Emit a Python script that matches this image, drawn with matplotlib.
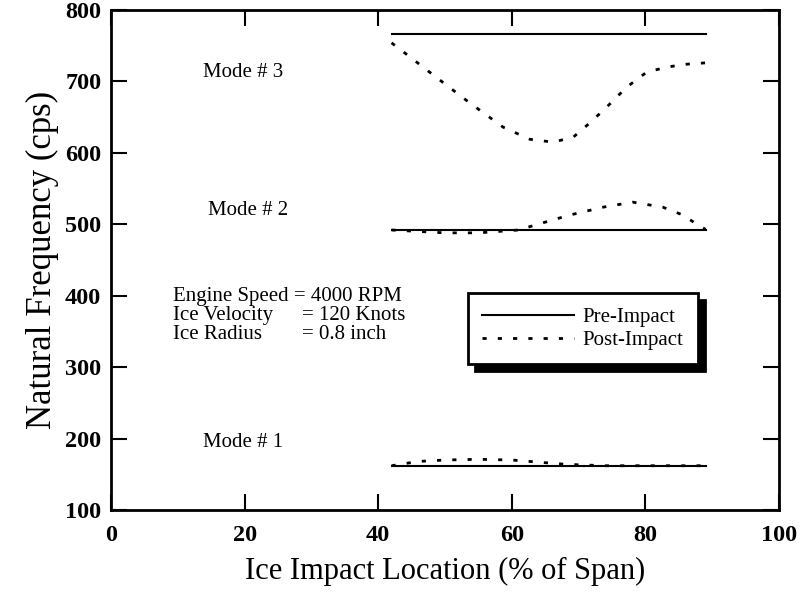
#!/usr/bin/env python3

import matplotlib
matplotlib.use('Agg')
import matplotlib.pyplot as plt

plt.rcParams['font.family'] = ['Liberation Serif', 'DejaVu Serif']

# pre-impact frequencies (flat lines)
x_pre = [42, 89]
mode1_pre = [162, 162]
mode2_pre = [492, 492]
mode3_pre = [766, 766]

# post-impact frequencies
x1_post = [42, 46, 50, 55, 60, 64, 68, 74, 80, 89]
mode1_post = [162, 168, 170, 171, 170, 167, 164, 162, 162, 162]

x2_post = [42, 46, 50, 55, 61, 65, 68.7, 73.7, 78.1, 82.6, 85.6, 88.2, 89]
mode2_post = [492, 490, 488, 488, 492, 503, 513, 524, 531, 524, 513, 497, 493]

x3_post = [42, 44.8, 48.8, 53.7, 58.7, 62.7, 66.2, 69.2, 71.7, 74.2, 77.2,
           80.2, 83.2, 86.0, 89.0]
mode3_post = [754, 734, 705, 670, 636, 619, 615, 622, 642, 664, 692, 713,
              720, 724, 726]

xticks = [0, 20, 40, 60, 80, 100]
yticks = [100, 200, 300, 400, 500, 600, 700, 800]

mode_labels = ['Mode # 1', 'Mode # 2', 'Mode # 3']
mode_label_x = [19.8, 20.5, 19.8]
mode_label_y = [195, 520, 712]

dots = (0, (1.5, 4))

fig = plt.figure(figsize=(8.02, 6.02), dpi=100)
ax = fig.add_axes([0.1384, 0.1528, 0.8329, 0.8306])

ax.plot(x_pre, mode1_pre, 'k-', lw=1.5, label='Pre-Impact')
ax.plot(x_pre, mode2_pre, 'k-', lw=1.5)
ax.plot(x_pre, mode3_pre, 'k-', lw=1.5)
ax.plot(x1_post, mode1_post, color='k', ls=dots, lw=2, label='Post-Impact')
ax.plot(x2_post, mode2_post, color='k', ls=dots, lw=2)
ax.plot(x3_post, mode3_post, color='k', ls=dots, lw=2)

for lab, lx, ly in zip(mode_labels, mode_label_x, mode_label_y):
  ax.text(lx, ly, lab, fontsize=15, ha='center', va='center')

# run conditions
ax.text(9.3, 399, 'Engine Speed = 4000 RPM', fontsize=15, va='center')
ax.text(9.3, 373, 'Ice Velocity', fontsize=15, va='center')
ax.text(28.6, 373, '= 120 Knots', fontsize=15, va='center')
ax.text(9.3, 346, 'Ice Radius', fontsize=15, va='center')
ax.text(28.6, 346, '= 0.8 inch', fontsize=15, va='center')

ax.set_xlim(0, 100)
ax.set_ylim(100, 800)
ax.set_xticks(xticks)
ax.set_yticks(yticks)
ax.tick_params(direction='in', length=11.5, width=1.5, top=True, right=True,
               labelsize=17.5)
ax.tick_params(axis='x', pad=11)
ax.tick_params(axis='y', pad=7)
for lab in ax.get_xticklabels() + ax.get_yticklabels():
  lab.set_fontweight('bold')
for sp in ax.spines.values():
  sp.set_linewidth(2)

ax.set_xlabel('Ice Impact Location (% of Span)', fontsize=22, labelpad=8)
ax.set_ylabel('Natural Frequency (cps)', fontsize=25, labelpad=4)

leg = ax.legend(loc='upper left', bbox_to_anchor=(0.534, 0.434),
                borderaxespad=0, fontsize=15, handlelength=4.4,
                handletextpad=0.4, borderpad=0.7, labelspacing=0.15,
                fancybox=False, edgecolor='black',
                shadow={'ox': 5, 'oy': -5, 'color': 'black', 'alpha': 1})
leg.get_frame().set_linewidth(2)
leg.get_frame().set_alpha(1)

plt.savefig('out.png', dpi=100)
